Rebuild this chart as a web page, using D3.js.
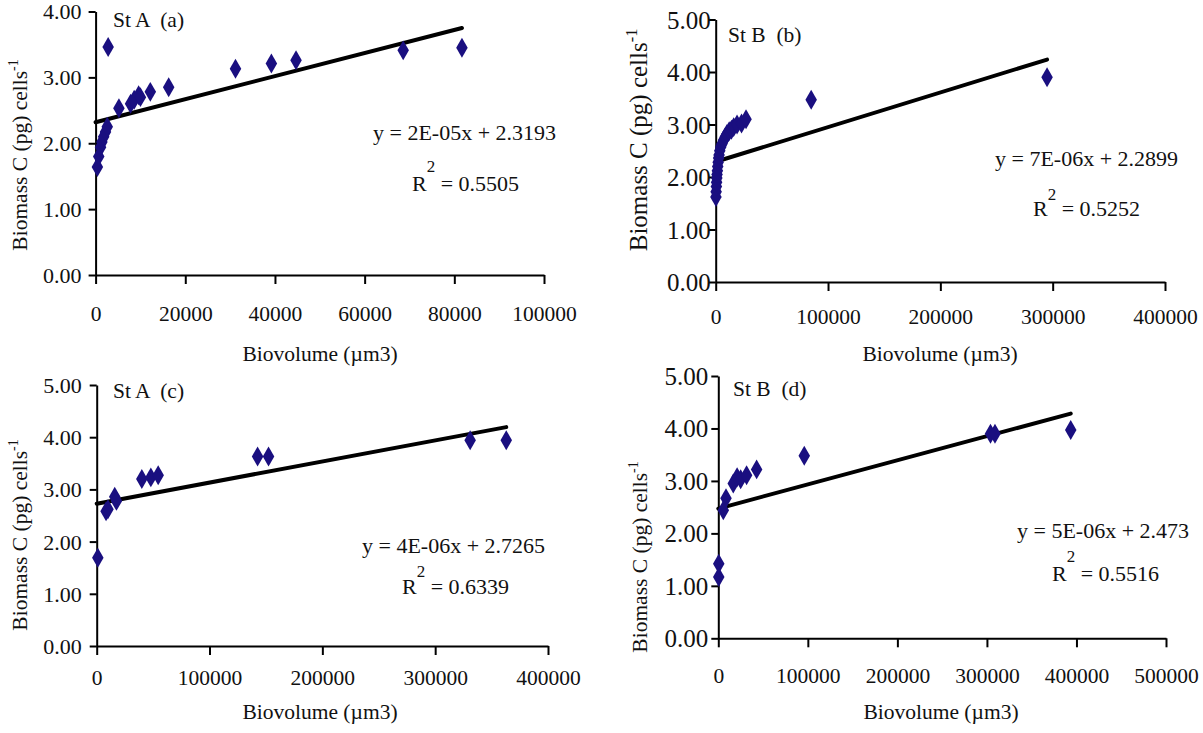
<!DOCTYPE html>
<html>
<head>
<meta charset="utf-8">
<script src="https://cdn.jsdelivr.net/npm/d3@7"></script>
<style>
html,body{margin:0;padding:0;background:#fff;}
svg{display:block;}
</style>
</head>
<body>
<svg id="chart" width="1203" height="733"></svg>
<script>
// ---------------- DATA ----------------
// Panel (a) St A
const xA = [400, 700, 1100, 1400, 1800, 2200, 2600, 2800, 5200, 7800, 8600, 9600, 10000, 12200, 16300, 31200, 39200, 44700, 68600, 81700];
const yA = [1.64, 1.80, 1.94, 2.02, 2.10, 2.17, 2.25, 3.46, 2.53, 2.60, 2.66, 2.73, 2.70, 2.78, 2.85, 3.13, 3.21, 3.26, 3.41, 3.45];
const trendA = [2.3193, 1.75e-5];            // intercept, slope as drawn
const eqA = ["y = 2E-05x + 2.3193", "0.5505"];
const xTicksA = [0, 20000, 40000, 60000, 80000, 100000];
const yTicksA = [0, 1, 2, 3, 4];

// Panel (b) St B
const xB = [200, 400, 600, 800, 1000, 1200, 1500, 1800, 2200, 2600, 3000, 3600, 4500, 5500, 7000, 8500, 10000, 12000, 14000, 16000, 19000, 23000, 27000, 85000, 295000];
const yB = [1.62, 1.72, 1.82, 1.90, 1.98, 2.05, 2.12, 2.20, 2.28, 2.36, 2.42, 2.50, 2.57, 2.63, 2.70, 2.76, 2.82, 2.87, 2.90, 2.95, 3.00, 3.02, 3.10, 3.47, 3.90];
const trendB = [2.2899, 6.6e-6];
const eqB = ["y = 7E-06x + 2.2899", "0.5252"];
const xTicksB = [0, 100000, 200000, 300000, 400000];
const yTicksB = [0, 1, 2, 3, 4, 5];

// Panel (c) St A
const xC = [1000, 8300, 10000, 16000, 17500, 40000, 48000, 54500, 142600, 152300, 331000, 363000];
const yC = [1.69, 2.58, 2.62, 2.86, 2.78, 3.20, 3.23, 3.27, 3.63, 3.63, 3.94, 3.94];
const trendC = [2.7265, 4.04e-6];
const eqC = ["y = 4E-06x + 2.7265", "0.6339"];
const xTicksC = [0, 100000, 200000, 300000, 400000];
const yTicksC = [0, 1, 2, 3, 4, 5];

// Panel (d) St B
const xD = [500, 500, 5600, 8600, 16700, 21000, 25000, 31600, 42800, 96000, 304000, 309000, 393600];
const yD = [1.17, 1.42, 2.44, 2.67, 2.95, 3.07, 3.03, 3.11, 3.22, 3.48, 3.90, 3.90, 3.97];
const trendD = [2.473, 4.6e-6];
const eqD = ["y = 5E-06x + 2.473", "0.5516"];
const xTicksD = [0, 100000, 200000, 300000, 400000, 500000];
const yTicksD = [0, 1, 2, 3, 4, 5];

const yTitle = "Biomass C (pg) cells";
const xTitle = "Biovolume (\u00b5m3)";

// ---------------- LAYOUT ----------------
const FONT = "'Liberation Serif','Times New Roman',Times,serif";
const MARK = "#1a0f80";

const panels = [
  {xs:xA, ys:yA, trend:trendA, eq:eqA, xt:xTicksA, yt:yTicksA, title:"St A  (a)",
   L:{x0:95.6, x1:544, y0:275, y1:11.5, ytf:22, ygap:14, ylf:21.5, ylx:27, yly:155,
      tx:113, ty:27, xlb:321, xlx:320, xly:361, eqx:373, eqy:140, rx:412, ry:191, rup:19}},
  {xs:xB, ys:yB, trend:trendB, eq:eqB, xt:xTicksB, yt:yTicksB, title:"St B  (b)",
   L:{x0:715.7, x1:1165, y0:282, y1:19.5, ytf:25, ygap:5, ylf:25, ylx:647, yly:140,
      tx:728, ty:42, xlb:324, xlx:940, xly:361, eqx:995, eqy:166, rx:1033, ry:216, rup:16}},
  {xs:xC, ys:yC, trend:trendC, eq:eqC, xt:xTicksC, yt:yTicksC, title:"St A  (c)",
   L:{x0:96.7, x1:548, y0:646, y1:385, ytf:22, ygap:15, ylf:21.5, ylx:27, yly:535,
      tx:113, ty:398, xlb:685, xlx:320, xly:719, eqx:362, eqy:553, rx:402, ry:594, rup:17}},
  {xs:xD, ys:yD, trend:trendD, eq:eqD, xt:xTicksD, yt:yTicksD, title:"St B  (d)",
   L:{x0:718.3, x1:1166, y0:638.3, y1:376, ytf:25, ygap:10, ylf:21.5, ylx:647, yly:557,
      tx:733, ty:396, xlb:683, xlx:941, xly:719, eqx:1017, eqy:538, rx:1052, ry:581, rup:19}}
];

const svg = d3.select("#chart");
svg.append("rect").attr("width",1203).attr("height",733).attr("fill","#fff");

panels.forEach(p => {
  const L = p.L;
  const x = d3.scaleLinear().domain([p.xt[0], p.xt[p.xt.length-1]]).range([L.x0, L.x1]);
  const y = d3.scaleLinear().domain([p.yt[0], p.yt[p.yt.length-1]]).range([L.y0, L.y1]);
  const g = svg.append("g");

  // x axis
  const gx = g.append("g").attr("transform", `translate(0,${L.y0})`)
    .call(d3.axisBottom(x).tickValues(p.xt).tickSize(9).tickSizeOuter(0).tickFormat(d3.format("d")));
  gx.attr("font-family", FONT).attr("font-size", 21.5);
  gx.selectAll("path,line").attr("stroke","#000").attr("stroke-width",2);
  gx.selectAll(".tick text").attr("fill","#111").attr("dy", null).attr("y", L.xlb - L.y0);

  // y axis
  const gy = g.append("g").attr("transform", `translate(${L.x0},0)`)
    .call(d3.axisLeft(y).tickValues(p.yt).tickSize(7).tickSizeOuter(0).tickFormat(d3.format(".2f")));
  gy.attr("font-family", FONT).attr("font-size", L.ytf);
  gy.selectAll("path,line").attr("stroke","#000").attr("stroke-width",2);
  gy.selectAll(".tick text").attr("fill","#111").attr("x", -L.ygap).attr("dy","0.34em");

  // trend line
  const xmax = d3.max(p.xs);
  g.append("line")
    .attr("x1", x(0)).attr("y1", y(p.trend[0]))
    .attr("x2", x(xmax)).attr("y2", y(p.trend[0] + p.trend[1]*xmax))
    .attr("stroke","#000").attr("stroke-width",4).attr("stroke-linecap","round");

  // points
  const sym = d3.symbol().type(d3.symbolDiamond).size(115);
  g.selectAll("path.pt").data(p.xs.map((v,i)=>[v,p.ys[i]])).join("path")
    .attr("class","pt")
    .attr("d", sym)
    .attr("transform", d => `translate(${x(d[0])},${y(d[1])})`)
    .attr("fill", MARK);

  // panel title
  g.append("text").attr("x", L.tx).attr("y", L.ty)
    .attr("font-family", FONT).attr("font-size", 21.5).attr("fill","#111")
    .attr("xml:space","preserve").style("white-space","pre")
    .text(p.title);

  // equation
  g.append("text").attr("x", L.eqx).attr("y", L.eqy)
    .attr("font-family", FONT).attr("font-size", 22).attr("fill","#111")
    .text(p.eq[0]);
  const r = g.append("text").attr("x", L.rx).attr("y", L.ry)
    .attr("font-family", FONT).attr("font-size", 22).attr("fill","#111");
  r.append("tspan").text("R");
  r.append("tspan").attr("dy", -L.rup).attr("font-size", 17).text("2");
  r.append("tspan").attr("dy", L.rup).text(" = " + p.eq[1]);

  // y title
  const yl = g.append("text")
    .attr("transform", `translate(${L.ylx},${L.yly}) rotate(-90)`)
    .attr("text-anchor","middle")
    .attr("font-family", FONT).attr("font-size", L.ylf).attr("fill","#111");
  yl.append("tspan").text(yTitle);
  yl.append("tspan").attr("dy", -L.ylf*0.4).attr("font-size", L.ylf*0.65).text("-1");

  // x title
  g.append("text").attr("x", L.xlx).attr("y", L.xly)
    .attr("text-anchor","middle")
    .attr("font-family", FONT).attr("font-size", 21.5).attr("fill","#111")
    .text(xTitle);
});
</script>
</body>
</html>
